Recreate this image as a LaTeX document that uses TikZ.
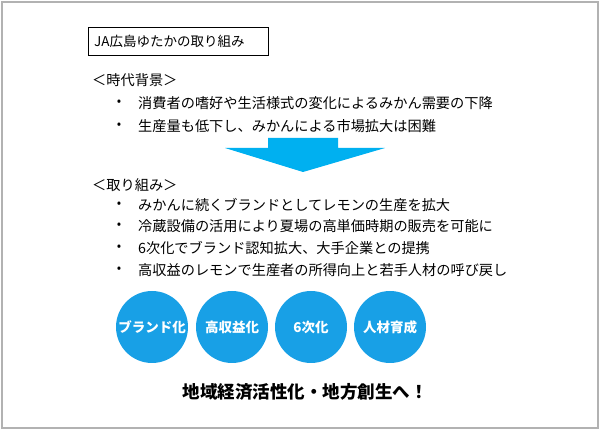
\documentclass[tikz,border=0pt]{standalone}
\usepackage{fontspec}
\setmainfont{Noto Sans CJK JP}
\definecolor{sky}{RGB}{0,176,240}
\definecolor{circ}{RGB}{24,160,230}
\begin{document}
\begin{tikzpicture}[x=1pt,y=-1pt,
  txt/.style={anchor=west,inner sep=0,font=\fontsize{14.2}{16}\selectfont},
  bul/.style={anchor=center,inner sep=0,font=\fontsize{13}{15}\selectfont},
  disc/.style={circle,fill=circ,minimum size=72pt,inner sep=0,text=white,font=\fontsize{13.5}{15}\selectfont\bfseries}]
\useasboundingbox (0,0) rectangle (600,430);
\draw[gray!60,line width=1.2pt] (2,2) rectangle (598,428);
\node[draw,line width=0.8pt,minimum width=180pt,minimum height=28pt,anchor=north west,inner sep=0] (title) at (88,27) {};
\node[txt,font=\fontsize{13.5}{15}\selectfont] (tt) at (94,41) {JA広島ゆたかの取り組み};
\node[txt] (h1) at (92,80) {＜時代背景＞};
\node[bul] (b1) at (119,103) {•}; \node[txt] (t1) at (138,103) {消費者の嗜好や生活様式の変化によるみかん需要の下降};
\node[bul] (b2) at (119,126) {•}; \node[txt] (t2) at (138,126) {生産量も低下し、みかんによる市場拡大は困難};
\fill[sky] (268,138) -- (338,138) -- (338,148) -- (385,148) -- (303,172) -- (225,148) -- (268,148) -- cycle;
\node[txt] (h2) at (92,185) {＜取り組み＞};
\node[bul] (c1) at (119,205) {•}; \node[txt] (u1) at (138,205) {みかんに続くブランドとしてレモンの生産を拡大};
\node[bul] (c2) at (119,226) {•}; \node[txt] (u2) at (138,226) {冷蔵設備の活用により夏場の高単価時期の販売を可能に};
\node[bul] (c3) at (119,248) {•}; \node[txt] (u3) at (138,248) {6次化でブランド認知拡大、大手企業との提携};
\node[bul] (c4) at (119,270) {•}; \node[txt] (u4) at (138,270) {高収益のレモンで生産者の所得向上と若手人材の呼び戻し};
\node[disc] (d1) at (152,327) {ブランド化};
\node[disc] (d2) at (232,327) {高収益化};
\node[disc] (d3) at (311,327) {6次化};
\node[disc] (d4) at (390,327) {人材育成};
\node[inner sep=0,font=\fontsize{17.5}{19}\selectfont\bfseries] (end) at (305,392) {地域経済活性化・地方創生へ！};
\end{tikzpicture}
\end{document}
